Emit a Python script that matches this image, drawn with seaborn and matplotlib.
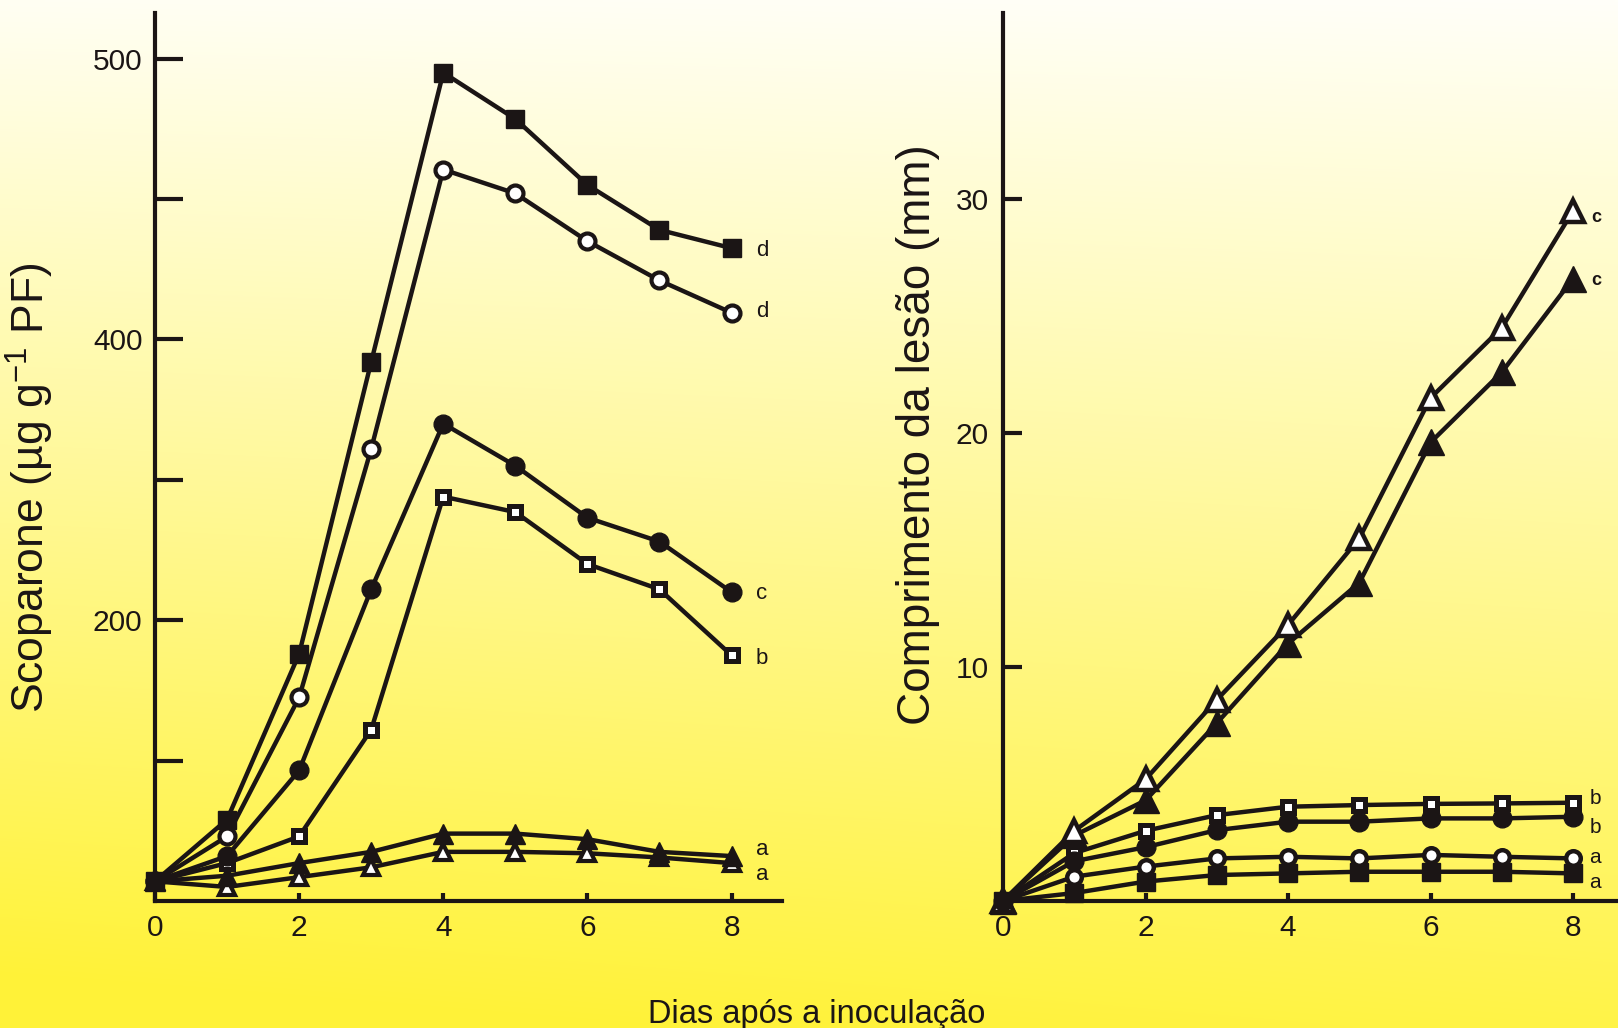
import numpy as np
import matplotlib
matplotlib.use("Agg")
import matplotlib.pyplot as plt
import seaborn as sns

# ---------------- data ----------------
days = [0, 1, 2, 3, 4, 5, 6, 7, 8]

# Left panel: Scoparone (values on the figure's linear scale)
scop_sq_filled = [14, 58, 176, 384, 590, 557, 510, 478, 465]
scop_circ_open = [14, 46, 145, 322, 521, 504, 470, 442, 419]
scop_circ_filled = [14, 32, 93, 222, 340, 310, 273, 256, 220]
scop_sq_open = [14, 27, 46, 122, 288, 277, 240, 222, 175]
scop_tri_filled = [14, 18, 27, 35, 48, 48, 44, 35, 32]
scop_tri_open = [14, 10, 17, 24, 35, 35, 34, 31, 27]

left_yticks = [100, 200, 300, 400, 500, 600]
left_yticklabels = ["", "200", "", "400", "", "500"]
xticks = [0, 2, 4, 6, 8]

left_letters = ["d", "d", "c", "b", "a", "a"]
left_letter_y = [463, 420, 219, 173, 37, 19]

# Right panel: lesion length (mm)
les_tri_open = [0, 3.0, 5.2, 8.6, 11.8, 15.5, 21.5, 24.5, 29.5]
les_tri_filled = [0, 2.8, 4.3, 7.6, 11.0, 13.6, 19.6, 22.6, 26.6]
les_sq_open = [0, 2.05, 3.0, 3.67, 4.03, 4.1, 4.15, 4.17, 4.2]
les_circ_filled = [0, 1.7, 2.3, 3.03, 3.39, 3.39, 3.53, 3.53, 3.6]
les_circ_open = [0, 1.04, 1.47, 1.82, 1.89, 1.82, 1.97, 1.89, 1.82]
les_sq_filled = [0, 0.34, 0.83, 1.11, 1.18, 1.25, 1.25, 1.25, 1.18]

right_yticks = [10, 20, 30]
right_letters = ["c", "c", "b", "b", "a", "a"]
right_letter_y = [29.2, 26.5, 4.4, 3.16, 1.84, 0.81]

ylabel_left = "Scoparone (µg g$^{-1}$ PF)"
ylabel_right = "Comprimento da lesão (mm)"
xlabel = "Dias após a inoculação"

# ---------------- style ----------------
sns.set_style("ticks")
plt.rcParams["font.family"] = ["Liberation Sans", "DejaVu Sans"]
plt.rcParams["mathtext.fontset"] = "custom"
plt.rcParams["mathtext.rm"] = "Liberation Sans"
plt.rcParams["mathtext.it"] = "Liberation Sans"
ink = "#1b1515"

W, H = 1618, 1028
fig = plt.figure(figsize=(W / 100, H / 100), dpi=100)

# background gradient (white at top -> yellow at bottom)
yy = np.linspace(0, 1, 300)[:, None]
xx = np.linspace(0, 1, 300)[None, :]
t = np.clip(yy * 0.92 + 0.10 * (1 - xx) * (0.3 + yy), 0, 1)
top = np.array([1.0, 1.0, 0.975])
bot = np.array([1.0, 0.950, 0.22])
grad = top[None, None, :] * (1 - t[..., None]) + bot[None, None, :] * t[..., None]
bg = fig.add_axes([0, 0, 1, 1], zorder=-10)
bg.imshow(grad, aspect="auto", extent=[0, 1, 0, 1], interpolation="bilinear")
bg.axis("off")

y0 = (H - 901) / H
hh = (901 - 13) / H
axL = fig.add_axes([155 / W, y0, (782 - 155) / W, hh])
axR = fig.add_axes([1003 / W, y0, 615 / W, hh])
for ax in (axL, axR):
    ax.set_facecolor("none")


def series(ax, vals, marker, filled, ms, mew, z):
    sns.lineplot(x=days, y=vals, ax=ax, color=ink, linewidth=3.2,
                 marker=marker, markersize=ms,
                 markerfacecolor=ink if filled else "white",
                 markeredgecolor=ink, markeredgewidth=mew,
                 errorbar=None, clip_on=False, zorder=z)


# left panel
series(axL, scop_tri_open, "^", False, 12, 3.0, 3)
series(axL, scop_tri_filled, "^", True, 14, 1.0, 3)
series(axL, scop_sq_open, "s", False, 8, 3.6, 3)
series(axL, scop_circ_filled, "o", True, 13.5, 1.0, 3)
series(axL, scop_circ_open, "o", False, 11.5, 3.0, 3)
series(axL, scop_sq_filled, "s", True, 12.5, 1.0, 3)

# right panel
series(axR, les_sq_filled, "s", True, 13, 1.0, 3)
series(axR, les_circ_open, "o", False, 10.5, 3.2, 4)
series(axR, les_sq_open, "s", False, 9, 3.6, 3)
series(axR, les_circ_filled, "o", True, 13.5, 1.0, 4)
series(axR, les_tri_filled, "^", True, 19, 1.0, 3)
series(axR, les_tri_open, "^", False, 15.5, 3.2, 3)

# letters
for s, yv in zip(left_letters, left_letter_y):
    axL.text(8.42, yv, s, fontsize=16, color=ink, ha="center", va="center")
for i, (s, yv) in enumerate(zip(right_letters, right_letter_y)):
    axR.text(8.33 if i < 2 else 8.31, yv, s, fontsize=13 if i < 2 else 15,
             fontweight="bold" if i < 2 else "normal",
             color=ink, ha="center", va="center", clip_on=False)

# axes formatting
axL.set_xlim(0, 8.70)
axL.set_ylim(0, 632.5)
axR.set_xlim(0, 8.63)
axR.set_ylim(0, 37.95)

axL.set_yticks(left_yticks)
axL.set_yticklabels(left_yticklabels)
axR.set_yticks(right_yticks)
for ax in (axL, axR):
    ax.set_xticks(xticks)
    ax.set_xticklabels([str(v) for v in xticks])
    sns.despine(ax=ax)
    for sp in ("left", "bottom"):
        ax.spines[sp].set_linewidth(3)
        ax.spines[sp].set_color(ink)
    ax.tick_params(axis="x", direction="in", length=6, width=3, pad=9,
                   labelsize=21.5, colors=ink)
    ax.set_xlabel("")

axL.tick_params(axis="y", direction="in", length=20, width=3, pad=9,
                labelsize=21.5, colors=ink)
axR.tick_params(axis="y", direction="in", length=14, width=3, pad=10,
                labelsize=21.5, colors=ink)

axL.set_ylabel(ylabel_left, fontsize=32, color=ink)
axL.yaxis.set_label_coords(-0.158, 0.465)
axR.set_ylabel(ylabel_right, fontsize=33, color=ink)
axR.yaxis.set_label_coords(-0.103, 0.525)

fig.text(0.505, 0.005, xlabel, fontsize=23.5, color=ink, ha="center", va="baseline")

fig.savefig("out.png", dpi=100)
